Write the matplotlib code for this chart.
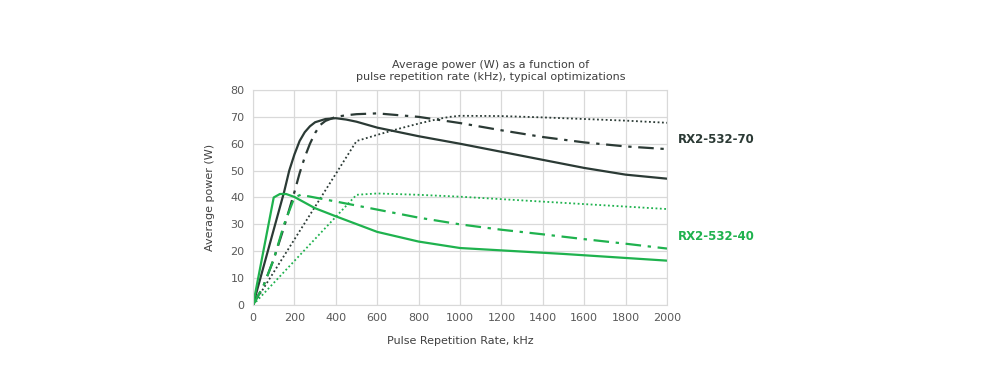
import matplotlib.pyplot as plt

# RX2-532-70 (dark curves)
x70_solid = [0, 50, 100, 150, 175, 200, 225, 250, 275, 300, 350, 400, 450, 500, 600, 800, 1000,
             1200, 1400, 1600, 1800, 2000]
y70_solid = [0, 14, 28, 42, 50, 56, 61, 64.3, 66.5, 68, 69.2, 69.5, 69, 68.2, 66, 62.8, 60,
             57, 54, 51, 48.5, 47]
x70_dash = [0, 50, 100, 150, 200, 225, 250, 275, 300, 325, 350, 400, 450, 500, 600, 800, 1000,
            1200, 1400, 1600, 1800, 2000]
y70_dash = [0, 7, 17, 29, 42, 49, 55, 60, 64, 67, 68.5, 70, 70.6, 71, 71.3, 70, 67.7,
            65, 62.5, 60.5, 59, 58]
x70_dot = [0, 500, 600, 700, 800, 900, 950, 1000, 1200, 1400, 1600, 1800, 2000]
y70_dot = [0, 61, 63.3, 65.5, 67.5, 69.3, 70, 70.4, 70.3, 69.8, 69.2, 68.6, 67.8]

# RX2-532-40 (green curves)
x40_solid = [0, 100, 130, 160, 200, 300, 400, 600, 800, 1000, 1500, 2000]
y40_solid = [0, 40, 41.3, 41.3, 40.2, 36, 33, 27.2, 23.6, 21.2, 19, 16.5]
x40_dash = [0, 50, 100, 150, 200, 230, 400, 600, 800, 1000, 1200, 1400, 1600, 1800, 2000]
y40_dash = [0, 7, 17, 30, 40, 41, 38.5, 35.5, 32.5, 30, 28, 26.3, 24.5, 22.8, 21]
x40_dot = [0, 500, 600, 800, 1000, 1500, 2000]
y40_dot = [0, 41, 41.5, 41, 40.3, 38, 35.7]

dark = '#2b3a35'
green = '#1fb24e'
grey_txt = '#595959'

fig = plt.figure(figsize=(10.02, 3.81), dpi=100)
ax = fig.add_axes([0.2525, 0.1995, 0.4132, 0.5643])

dashdot = (0, (7, 3, 1.5, 3))
ax.plot(x70_solid, y70_solid, color=dark, lw=1.6)
ax.plot(x70_dash, y70_dash, color=dark, lw=1.6, linestyle=dashdot)
ax.plot(x70_dot, y70_dot, color=dark, lw=1.3, linestyle=(0, (1, 1.4)))
ax.plot(x40_solid, y40_solid, color=green, lw=1.6)
ax.plot(x40_dash, y40_dash, color=green, lw=1.6, linestyle=dashdot)
ax.plot(x40_dot, y40_dot, color=green, lw=1.3, linestyle=(0, (1, 1.4)))

ax.set_xlim(0, 2000)
ax.set_ylim(0, 80)
ax.set_xticks(range(0, 2001, 200))
ax.set_yticks(range(0, 81, 10))
ax.grid(True, color='#d9d9d9', lw=0.9)
ax.set_axisbelow(True)
for s in ax.spines.values():
    s.set_color('#d9d9d9')
ax.tick_params(length=0, labelsize=8, colors=grey_txt, pad=6)

# title is centred over the whole chart area (incl. series labels), not the axes
fig.text(491 / 1002, 1 - 71 / 381,
         'Average power (W) as a function of\npulse repetition rate (kHz), typical optimizations',
         fontsize=8, color='#404040', ha='center', va='center', linespacing=1.25)
ax.set_xlabel('Pulse Repetition Rate, kHz', fontsize=8, color='#404040', labelpad=9)
ax.set_ylabel('Average power (W)', fontsize=8, color='#404040', labelpad=11)

fig.text(678 / 1002, 1 - 140 / 381, 'RX2-532-70', color=dark, fontsize=8.5,
         fontweight='bold', va='center')
fig.text(678 / 1002, 1 - 237 / 381, 'RX2-532-40', color=green, fontsize=8.5,
         fontweight='bold', va='center')

fig.savefig('out.png', dpi=100)
